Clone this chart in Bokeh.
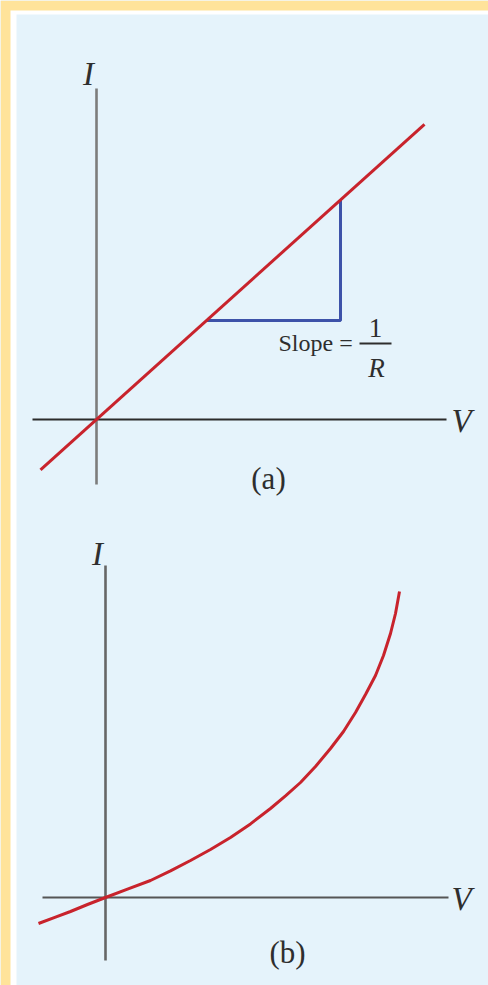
from bokeh.plotting import figure
from bokeh.models import Range1d
from bokeh.core.properties import value
from bokeh.embed import file_html
from bokeh.resources import INLINE

# ---- data -------------------------------------------------------------
# (a) ohmic conductor: straight line through the origin, I = V / R
R = 1 / 0.9
ohmic_v = [-2.8, 16.4]
ohmic_i = [v / R for v in ohmic_v]
# slope triangle drawn under the line
tri_v0, tri_v1 = 5.5, 12.2

# (b) non-ohmic device: I rises faster than V
curve_v = [-3.35, -2.5, -1.75, -0.9, 0.0, 1.1, 2.25, 3.25, 4.25, 5.25, 6.25, 7.25,
           8.25, 9.0, 9.75, 10.5, 11.25, 11.9, 12.5, 13.0, 13.5, 13.9, 14.25, 14.5, 14.7]
curve_i = [-1.3, -0.98, -0.7, -0.35, 0.0, 0.42, 0.85, 1.33, 1.85, 2.4, 3.0, 3.68,
           4.45, 5.08, 5.75, 6.55, 7.45, 8.3, 9.25, 10.15, 11.1, 12.1, 13.2, 14.2, 15.3]

# axis extents for each panel (V axis, I axis)
a_v_axis = [-3.2, 17.5]
a_i_axis = [-3.25, 16.55]
b_v_axis = [-3.15, 17.15]
b_i_axis = [-3.15, 16.6]

# ---- layout -------------------------------------------------------------
W, H = 488, 985
SCALE = 20.0  # canvas pixels per unit


def panel_ranges(ox, oy):
    return (Range1d(-ox / SCALE, (W - ox) / SCALE),
            Range1d(-(H - oy) / SCALE, oy / SCALE))


YELLOW = "#FFE39A"
BLUE_BG = "#E5F3FB"
RED = "#C8232C"
BLUE = "#3D52A9"
INK = "#2e2e2e"
SERIF = value("Liberation Serif")

p = figure(width=W, height=H, x_range=Range1d(0, W), y_range=Range1d(H, 0),
           output_backend="svg", toolbar_location=None, min_border=0,
           x_axis_location=None, y_axis_location=None)
p.grid.visible = False
p.outline_line_color = None
p.background_fill_color = BLUE_BG
p.border_fill_color = BLUE_BG

# page frame: yellow band, thin white rule, light blue panel
p.quad(left=[0], right=[W], top=[0], bottom=[H], fill_color=YELLOW, line_color=None)
p.quad(left=[10], right=[W], top=[10], bottom=[H], fill_color="white", line_color=None)
p.quad(left=[16], right=[W], top=[14], bottom=[H], fill_color=BLUE_BG, line_color=None)

xa, ya = panel_ranges(96, 419)
xb, yb = panel_ranges(105, 897)
p.extra_x_ranges = {"ax": xa, "bx": xb}
p.extra_y_ranges = {"ay": ya, "by": yb}


def draw_axes(xr, yr, v_ext, i_ext, vcol, icol):
    p.line(x=v_ext, y=[0, 0], x_range_name=xr, y_range_name=yr,
           line_color=vcol, line_width=2)
    p.line(x=[0, 0], y=i_ext, x_range_name=xr, y_range_name=yr,
           line_color=icol, line_width=2.6)


def label(xr, yr, x, y, txt, size, italic=False):
    p.text(x=[x], y=[y], text=[txt], x_range_name=xr, y_range_name=yr,
           text_font=SERIF, text_font_style="italic" if italic else "normal",
           text_font_size=size, text_color=INK,
           text_align="center", text_baseline="middle")


# ---- panel (a) ----------------------------------------------------------
draw_axes("ax", "ay", a_v_axis, a_i_axis, "#2b2b2b", "#7c7c7c")
tri_i0, tri_i1 = tri_v0 / R, tri_v1 / R
p.line(x=[tri_v0, tri_v1, tri_v1], y=[tri_i0, tri_i0, tri_i1],
       x_range_name="ax", y_range_name="ay", line_color=BLUE, line_width=3)
p.line(x=ohmic_v, y=ohmic_i, x_range_name="ax", y_range_name="ay",
       line_color=RED, line_width=3)

label("ax", "ay", -0.4, 17.3, "I", "33px", italic=True)
label("ax", "ay", 18.25, -0.05, "V", "33px", italic=True)
p.text(x=[9.1], y=[3.85], text=["Slope ="], x_range_name="ax", y_range_name="ay",
       text_font=SERIF, text_font_size="24px", text_color=INK,
       text_align="left", text_baseline="middle")
label("ax", "ay", 13.95, 4.6, "1", "27px")
p.line(x=[13.15, 14.75], y=[3.8, 3.8], x_range_name="ax", y_range_name="ay",
       line_color=INK, line_width=1.8)
label("ax", "ay", 14.0, 2.6, "R", "27px", italic=True)
label("ax", "ay", 8.6, -2.95, "(a)", "31px")

# ---- panel (b) ----------------------------------------------------------
draw_axes("bx", "by", b_v_axis, b_i_axis, "#555555", "#666666")
p.line(x=curve_v, y=curve_i, x_range_name="bx", y_range_name="by",
       line_color=RED, line_width=3, line_join="round")

label("bx", "by", -0.4, 17.2, "I", "33px", italic=True)
label("bx", "by", 17.8, -0.05, "V", "33px", italic=True)
label("bx", "by", 9.1, -2.75, "(b)", "31px")

open("out.html", "w").write(file_html(p, INLINE))
